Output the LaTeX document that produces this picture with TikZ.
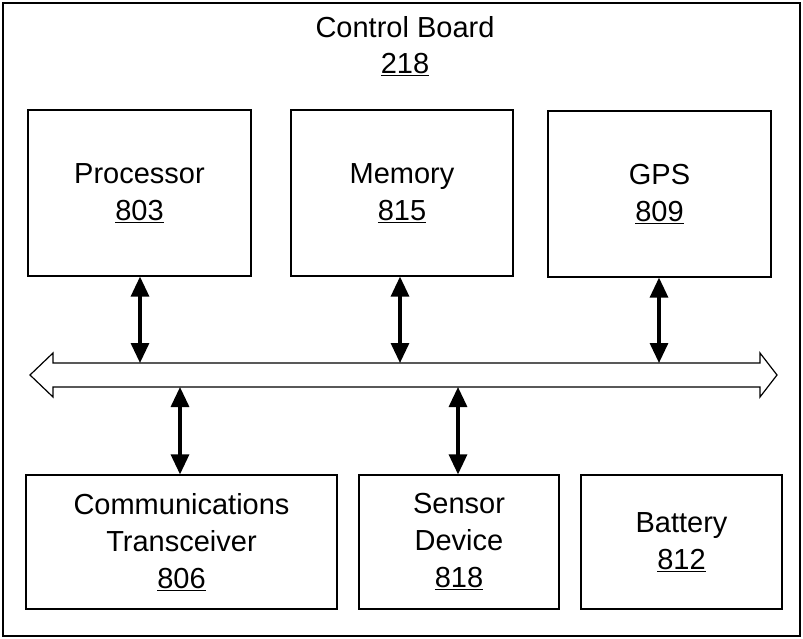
\documentclass[tikz,border=0pt]{standalone}
\usepackage{fontspec}
\setmainfont{Liberation Sans}
\usetikzlibrary{arrows.meta}
\tikzset{
  box/.style={draw, line width=1.2pt, align=center, inner sep=0pt,
    font=\fontsize{29}{37}\selectfont},
  link/.style={line width=3.2pt, {Triangle[length=20pt,width=18pt]}-{Triangle[length=20pt,width=18pt]}},
  lbl/.style={align=center, font=\fontsize{29}{36}\selectfont}
}
\begin{document}
\begin{tikzpicture}[x=1pt,y=-1pt]
\useasboundingbox (0,0) rectangle (803,639);
\draw[line width=1.2pt] (3,3) rectangle (800,636);
\node[lbl] (title) at (405,46) {Control Board\\\underline{218}};
% top boxes
\node[box, minimum width=223pt, minimum height=166pt] (proc) at (139.5,193) {Processor\\\underline{803}};
\node[box, minimum width=222pt, minimum height=166pt] (mem) at (402,193) {Memory\\\underline{815}};
\node[box, minimum width=223pt, minimum height=166pt] (gps) at (659.5,194) {GPS\\\underline{809}};
% bottom boxes
\node[box, minimum width=311pt, minimum height=134pt] (comm) at (181.5,542) {Communications\\Transceiver\\\underline{806}};
\node[box, minimum width=200pt, minimum height=134pt] (sens) at (459,542) {Sensor\\Device\\\underline{818}};
\node[box, minimum width=201pt, minimum height=134pt] (batt) at (681.5,542) {Battery\\\underline{812}};
% bus
\draw[line width=1.2pt, fill=white] (30,375) -- (53,353) -- (53,363) -- (760,363) -- (760,353)
  -- (777,375) -- (760,397) -- (760,387) -- (53,387) -- (53,397) -- cycle;
\coordinate (bustop) at (0,363);
\coordinate (busbot) at (0,387);
% links
\draw[link] (proc.south -| 140,0) -- (140,0 |- bustop);
\draw[link] (mem.south -| 400,0) -- (400,0 |- bustop);
\draw[link] (gps.south -| 659,0) -- (659,0 |- bustop);
\draw[link] (180,0 |- busbot) -- (comm.north -| 180,0);
\draw[link] (458,0 |- busbot) -- (sens.north -| 458,0);
\end{tikzpicture}
\end{document}
